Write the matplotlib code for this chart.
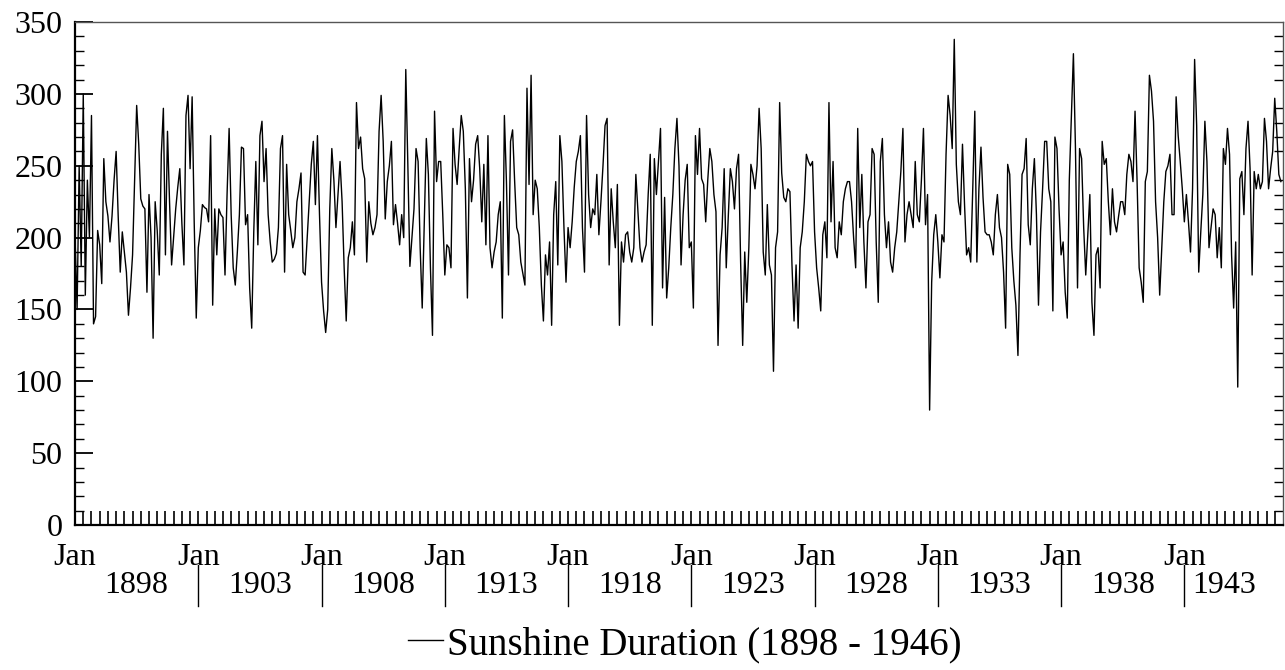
import numpy as np
import matplotlib
matplotlib.use('Agg')
import matplotlib.pyplot as plt
from matplotlib.transforms import blended_transform_factory

plt.rcParams['font.family'] = ['Liberation Serif', 'DejaVu Serif']

# monthly sunshine duration, one row per year (Jan..Dec)
sun_1898_1907 = [
    200, 150, 250, 180, 300, 160, 240, 200, 285, 140, 145, 205,
    195, 168, 255, 225, 215, 197, 215, 240, 260, 215, 176, 204,
    190, 176, 146, 165, 188, 240, 292, 265, 227, 222, 220, 162,
    230, 200, 130, 225, 205, 174, 258, 290, 188, 274, 225, 181,
    200, 220, 235, 248, 210, 181, 285, 299, 248, 298, 211, 144,
    193, 205, 223, 221, 220, 211, 271, 153, 220, 188, 220, 216,
    214, 174, 230, 276, 216, 179, 167, 190, 216, 263, 262, 209,
    216, 165, 137, 204, 253, 195, 271, 281, 239, 262, 216, 197,
    183, 185, 189, 207, 262, 271, 176, 251, 216, 205, 193, 200,
    225, 234, 245, 176, 174, 200, 225, 251, 267, 223, 271, 216,
]
sun_1908_1917 = [
    169, 149, 134, 150, 220, 262, 240, 207, 230, 253, 225, 179,
    142, 186, 193, 211, 188, 294, 262, 270, 248, 241, 183, 225,
    210, 202, 207, 216, 274, 299, 267, 213, 239, 250, 267, 209,
    223, 210, 195, 216, 200, 317, 251, 180, 200, 220, 262, 253,
    193, 151, 211, 269, 244, 179, 132, 288, 239, 253, 253, 216,
    174, 195, 193, 179, 276, 251, 237, 262, 285, 274, 234, 158,
    255, 225, 240, 265, 271, 248, 211, 251, 195, 271, 193, 179,
    190, 197, 216, 225, 144, 285, 239, 174, 267, 275, 239, 207,
    202, 183, 175, 167, 304, 237, 313, 216, 240, 234, 207, 167,
    142, 188, 174, 197, 139, 216, 239, 181, 271, 253, 207, 169,
]
sun_1918_1927 = [
    207, 193, 211, 235, 253, 260, 271, 207, 176, 285, 230, 207,
    220, 216, 244, 202, 225, 250, 278, 283, 181, 234, 211, 193,
    237, 139, 197, 183, 202, 204, 190, 183, 193, 244, 218, 193,
    183, 190, 195, 230, 258, 139, 255, 230, 253, 276, 165, 228,
    158, 179, 207, 230, 262, 283, 250, 181, 216, 240, 251, 193,
    197, 151, 271, 244, 276, 241, 237, 211, 240, 262, 253, 230,
    218, 125, 188, 207, 248, 179, 215, 248, 239, 220, 248, 258,
    183, 125, 190, 155, 193, 251, 244, 234, 250, 290, 262, 190,
    174, 223, 181, 174, 107, 193, 204, 294, 245, 228, 225, 234,
    232, 181, 142, 181, 137, 193, 204, 225, 258, 253, 250, 253,
]
sun_1928_1937 = [
    204, 179, 165, 149, 202, 211, 186, 294, 211, 253, 193, 186,
    211, 202, 225, 234, 239, 239, 225, 200, 179, 276, 207, 244,
    197, 165, 211, 216, 262, 258, 197, 155, 253, 269, 216, 193,
    211, 183, 176, 193, 204, 225, 246, 276, 197, 216, 225, 216,
    207, 253, 216, 211, 240, 276, 209, 230, 80, 169, 202, 216,
    197, 172, 202, 197, 258, 299, 285, 262, 338, 251, 225, 216,
    265, 223, 188, 193, 183, 234, 288, 183, 234, 263, 228, 204,
    202, 202, 197, 188, 216, 230, 207, 200, 176, 137, 251, 244,
    193, 170, 153, 118, 188, 244, 248, 269, 209, 195, 234, 255,
    216, 153, 204, 234, 267, 267, 234, 225, 149, 270, 262, 220,
]
sun_1938_1946 = [
    188, 197, 162, 144, 240, 285, 328, 262, 165, 262, 255, 207,
    174, 202, 230, 155, 132, 188, 193, 165, 267, 251, 255, 225,
    202, 234, 211, 204, 215, 225, 225, 216, 244, 258, 253, 239,
    288, 239, 179, 169, 155, 239, 246, 313, 302, 281, 225, 200,
    160, 193, 225, 246, 250, 258, 216, 216, 298, 271, 253, 234,
    211, 230, 211, 190, 234, 324, 278, 176, 204, 230, 281, 253,
    193, 207, 220, 216, 186, 207, 179, 262, 251, 276, 258, 188,
    151, 197, 96, 241, 246, 216, 262, 281, 248, 174, 246, 234,
    244, 234, 239, 283, 267, 234, 248, 260, 297, 274, 244, 239,
]

start_year = 1898
end_year = 1947
label_years = list(range(1898, 1944, 5))
y_ticks = list(range(0, 351, 50))

sunshine = np.array(sun_1898_1907 + sun_1908_1917 + sun_1918_1927
                    + sun_1928_1937 + sun_1938_1946, dtype=float)
t = start_year + np.arange(len(sunshine)) / 12.0

fig = plt.figure(figsize=(12.85, 6.7), dpi=100)
ax = fig.add_axes([0.0584, 0.2164, 0.9400, 0.7506])

line, = ax.plot(t, sunshine, color='black', linewidth=1.0,
                label='Sunshine Duration (1898 - 1946)')

ax.set_xlim(start_year, end_year)
ax.set_ylim(0, 350)

# y axis: labelled every 50, small ticks every 10
ax.set_yticks(y_ticks)
ax.set_yticks(range(0, 351, 10), minor=True)
ax.tick_params(axis='y', which='major', direction='in', length=13, width=1.3,
               labelsize=23, pad=9)
ax.tick_params(axis='y', which='minor', direction='in', length=6.5, width=1.0,
               right=True)

# x axis: a tick every four months, "Jan" every five years
ax.set_xticks(label_years)
ax.set_xticklabels(['Jan'] * len(label_years))
ax.set_xticks(np.arange(start_year, end_year, 1 / 3), minor=True)
ax.tick_params(axis='x', which='both', direction='in', length=10, width=1.2,
               labelsize=23, pad=13)

for side in ['left', 'bottom']:
    ax.spines[side].set_linewidth(1.6)
for side in ['top', 'right']:
    ax.spines[side].set_linewidth(1.0)
    ax.spines[side].set_color('#555555')

# second row of x labels: the years, with separators between groups
trans = blended_transform_factory(ax.transData, ax.transAxes)
bounds = label_years + [end_year]
for i, yr in enumerate(label_years):
    mid = (bounds[i] + bounds[i + 1]) / 2
    if i == len(label_years) - 1:
        mid = yr + 1.6
    ax.text(mid, -0.12, str(yr), transform=trans, ha='center', va='center',
            fontsize=23)
    if i > 0:
        ax.plot([yr, yr], [-0.08, -0.162], transform=trans, color='black',
                linewidth=1.0, clip_on=False)

fig.legend(handles=[line], loc='center', bbox_to_anchor=(0.533, 0.038),
           frameon=False, fontsize=28, handlelength=0.9, handletextpad=0.12)

fig.savefig('out.png', dpi=100)
